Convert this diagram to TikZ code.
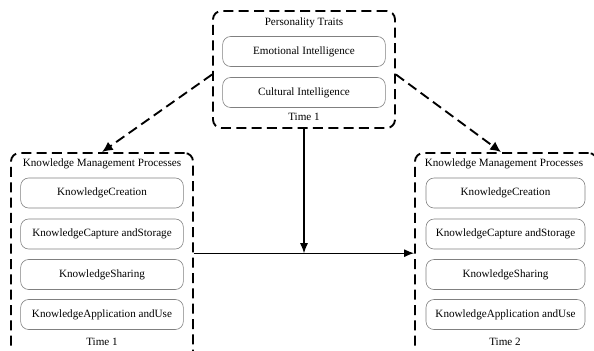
\documentclass[tikz,border=0pt]{standalone}
\usepackage{fontspec}
\setmainfont{Liberation Serif}
\usetikzlibrary{arrows.meta,positioning}

\tikzset{
  groupbox/.style={draw, line width=1.6pt, dash pattern=on 3mm off 1.6mm, rounded corners=2.5mm,
    minimum width=5.46cm, inner sep=0pt},
  itembox/.style={draw=black!50, line width=0.5pt, rounded corners=2.4mm,
    minimum width=4.88cm, minimum height=0.9cm, inner sep=0pt, font=\fontsize{9.5}{11}\selectfont},
  grouplabel/.style={font=\fontsize{9.5}{11}\selectfont, inner sep=0pt},
  dasharrow/.style={line width=1.6pt, dash pattern=on 3mm off 1.6mm, -{Latex[length=3.2mm,width=3mm]}},
  solidarrow/.style={line width=0.9pt, -{Latex[length=3mm,width=2.4mm]}}
}

\begin{document}
\begin{tikzpicture}[x=0.03cm, y=-0.03cm]
  \clip (0,0) rectangle (594,350);
  \fill[white] (0,0) rectangle (594,350);

  \node[groupbox, minimum height=3.51cm] (traits) at (304,69.5) {};
  \node[grouplabel] at (304,23) {Personality Traits};
  \node[itembox] (emo) at (304,51.5) {Emotional Intelligence};
  \node[itembox] (cult) at (304,92.5) {Cultural Intelligence};
  \node[grouplabel] at (304,117) {Time 1};

  \node[groupbox, minimum height=6.21cm] (kmone) at (102,256.5) {};
  \node[grouplabel] at (102,164) {Knowledge Management Processes};
  \node[itembox] (creone) at (102,193) {KnowledgeCreation};
  \node[itembox] (capone) at (102,234) {KnowledgeCapture andStorage};
  \node[itembox] (shaone) at (102,274.5) {KnowledgeSharing};
  \node[itembox] (appone) at (102,314.5) {KnowledgeApplication andUse};
  \node[grouplabel] at (102,342) {Time 1};

  \node[groupbox, minimum height=6.21cm] (kmtwo) at (506,256.5) {};
  \node[grouplabel] at (504,164) {Knowledge Management Processes};
  \node[itembox, minimum width=4.77cm] (cretwo) at (505.5,193) {KnowledgeCreation};
  \node[itembox, minimum width=4.77cm] (captwo) at (505.5,234) {KnowledgeCapture andStorage};
  \node[itembox, minimum width=4.77cm] (shatwo) at (505.5,274.5) {KnowledgeSharing};
  \node[itembox, minimum width=4.77cm] (apptwo) at (505.5,314.5) {KnowledgeApplication andUse};
  \node[grouplabel] at (505,342) {Time 2};

  \draw[dasharrow] ([yshift=-0.15cm]traits.west) -- (kmone.north);
  \draw[dasharrow] ([yshift=-0.15cm]traits.east) -- ([xshift=-0.15cm]kmtwo.north);
  \coordinate (meet) at ([yshift=0.1cm]traits.south |- kmone.east);
  \draw[solidarrow] ([yshift=0.1cm]kmone.east) -- ([yshift=0.1cm]kmtwo.west);
  \draw[solidarrow] (traits.south) -- (meet);
\end{tikzpicture}
\end{document}
